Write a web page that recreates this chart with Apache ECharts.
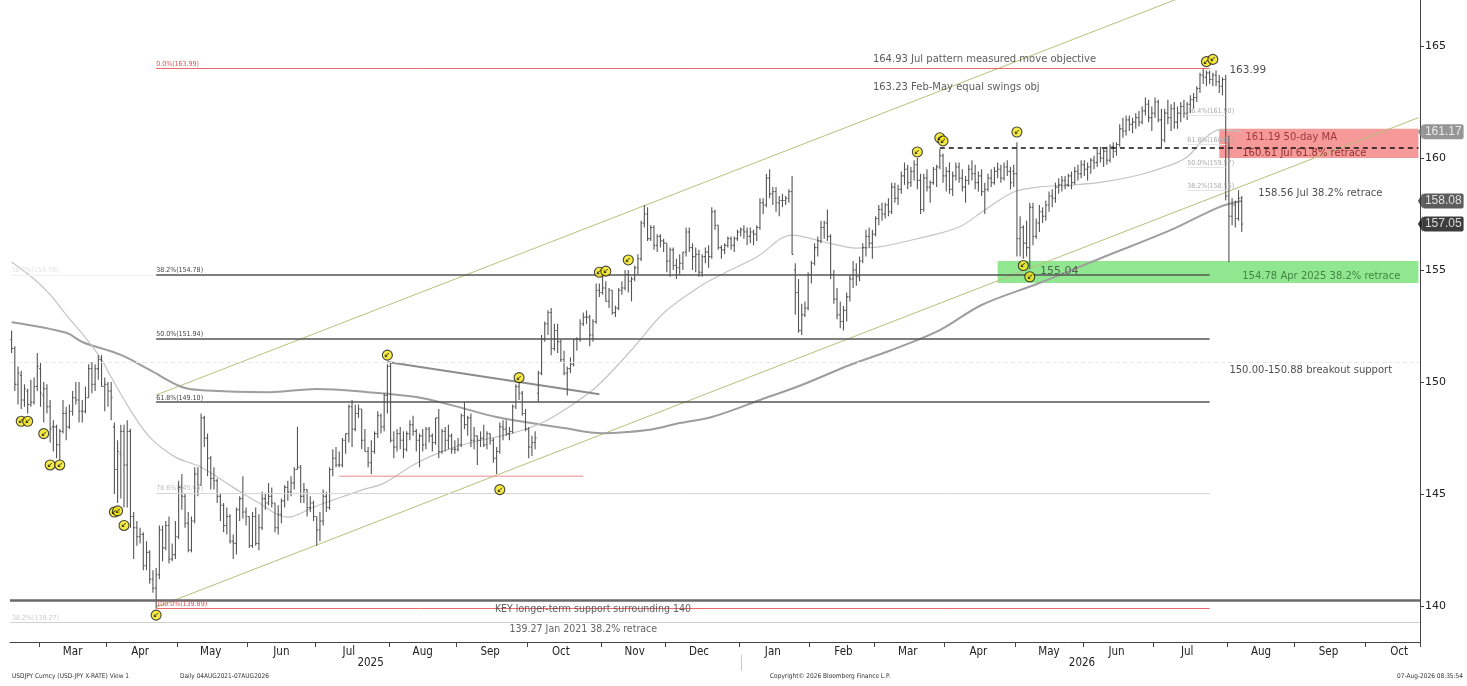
<!DOCTYPE html>
<html><head><meta charset="utf-8">
<script src="https://cdn.jsdelivr.net/npm/echarts@6/dist/echarts.min.js"></script>
<style>html,body{margin:0;padding:0;background:#fff}#c{width:1467px;height:686px}</style>
</head><body><div id="c"></div>
<script>
// ---------- categories: trading days (weekdays) ----------
function weekdays(start, end){
  const out=[]; let d=new Date(start+'T00:00:00Z'); const e=new Date(end+'T00:00:00Z');
  while(d<=e){ const w=d.getUTCDay(); if(w!==0&&w!==6) out.push(d.toISOString().slice(0,10)); d=new Date(d.getTime()+86400000); }
  return out;
}
const dates = weekdays('2025-02-18','2026-10-23');
const monthNames = ['Jan','Feb','Mar','Apr','May','Jun','Jul','Aug','Sep','Oct','Nov','Dec'];
const yearLabelDates = ['2025-07-24','2026-05-29'];
const yearSplitDate = '2026-01-01';
const yTicks = [140,145,150,155,160,165];

// ---------- daily bars [open, high, low, close] ----------
const bars2025Feb = [[151.9,152.3,151.3,151.5],[151.5,151.6,149.6,149.9],[149.9,150.7,149.0,150.4],[150.3,150.5,148.8,149.2],[149.2,149.9,148.9,149.7],[149.6,149.7,148.6,149.0],[149.0,150.1,148.9,149.1],[149.1,150.2,149.0,149.8],[149.8,151.3,149.6,150.7]];
const bars2025Mar = [[150.6,150.9,148.9,149.5],[149.4,150.0,148.2,149.7],[149.7,149.9,148.6,148.9],[148.9,149.2,147.3,147.9],[148.0,148.3,146.9,148.0],[148.0,148.1,146.6,147.2],[147.2,147.9,146.5,147.8],[147.8,149.2,147.7,148.6],[148.6,148.9,147.4,148.0],[148.0,149.0,147.9,148.7],[148.7,149.6,148.5,149.3],[149.3,150.0,149.0,149.2],[149.2,150.0,148.2,148.7],[148.7,149.2,148.2,148.7],[148.7,149.8,148.6,149.3],[149.3,150.8,149.3,150.6],[150.6,150.9,149.5,149.9],[149.9,150.8,149.6,150.6],[150.6,151.2,150.1,151.0],[151.0,151.2,149.8,149.8],[149.8,150.2,148.7,149.9]];
const bars2025Apr = [[149.9,150.0,148.9,149.6],[149.6,150.0,148.3,149.3],[148.0,148.2,145.0,146.1],[146.1,147.4,144.6,146.9],[146.8,148.1,144.8,147.8],[147.8,148.1,144.4,146.3],[146.3,148.3,144.4,147.8],[147.8,147.9,143.5,144.0],[144.0,144.2,142.1,143.5],[143.5,143.8,142.7,143.1],[143.1,143.5,142.8,143.2],[143.2,143.3,141.6,141.8],[141.8,142.9,141.6,142.4],[142.4,142.5,141.0,141.2],[141.2,141.6,140.6,140.8],[140.8,141.7,139.89,141.4],[141.4,143.6,141.2,143.4],[143.4,143.6,142.0,142.6],[142.6,143.8,142.5,143.6],[143.6,144.0,141.9,142.1],[142.1,142.8,142.0,142.3],[142.3,143.8,142.1,143.1]];
const bars2025May = [[143.1,145.6,143.0,145.3],[145.3,145.9,144.3,144.9],[144.9,145.0,143.5,143.7],[143.7,144.2,142.4,142.5],[142.5,144.0,142.4,143.8],[143.8,146.2,143.7,145.9],[145.9,146.2,144.9,145.4],[145.4,148.6,145.4,148.4],[148.4,148.5,147.1,147.5],[147.5,147.7,145.8,146.6],[146.6,146.7,145.2,145.7],[145.7,146.2,145.2,145.6],[145.6,145.7,144.6,144.9],[144.9,145.0,143.8,144.5],[144.5,144.6,143.3,143.6],[143.6,144.4,143.2,144.0],[144.0,144.1,142.8,142.9],[142.9,143.2,142.1,142.8],[142.8,144.4,142.3,144.3],[144.3,144.9,143.8,144.8],[144.8,145.8,143.9,144.2],[144.2,144.4,143.6,144.0]];
const bars2025Jun = [[144.0,144.0,142.6,142.7],[142.7,144.2,142.6,144.0],[144.0,144.4,142.7,142.8],[142.8,144.1,142.5,143.5],[143.5,145.1,143.4,144.8],[144.8,145.0,144.3,144.6],[144.6,145.5,144.5,144.9],[144.9,145.3,144.4,144.6],[144.6,144.6,143.3,143.5],[143.5,144.5,143.2,144.1],[144.1,144.8,143.7,144.7],[144.7,145.4,144.4,145.3],[145.3,145.6,144.7,145.1],[145.1,145.8,144.9,145.5],[145.5,146.2,145.2,146.1],[146.1,148.0,146.1,146.2],[146.2,146.3,144.6,144.9],[144.9,145.5,144.6,145.2],[145.2,145.2,144.0,144.4],[144.4,144.9,144.2,144.6],[144.6,144.7,143.8,144.0]];
const bars2025Jul = [[144.0,144.0,142.7,143.4],[143.4,144.2,142.9,143.8],[143.8,145.2,143.6,144.9],[144.9,145.1,144.2,144.4],[144.4,146.2,144.3,146.1],[146.1,147.0,145.8,146.6],[146.6,147.1,146.2,146.3],[146.3,146.9,146.2,146.3],[146.3,147.5,146.2,147.4],[147.4,147.7,146.8,147.7],[147.7,149.0,147.3,148.9],[148.9,149.2,147.1,147.9],[147.9,149.0,147.8,148.6],[148.6,149.0,148.4,148.8],[148.8,148.8,147.0,147.4],[147.4,147.9,146.9,146.9],[146.9,147.1,146.2,146.4],[146.4,147.4,145.9,146.9],[146.9,147.8,146.8,147.7],[147.7,148.7,147.5,148.5],[148.5,148.6,147.7,148.0],[148.0,149.5,147.8,149.4],[149.4,150.8,148.6,150.7]];
const bars2025Aug = [[150.7,150.9,147.3,147.4],[147.4,147.8,146.6,147.1],[147.1,147.9,146.9,147.7],[147.7,148.0,147.0,147.4],[147.4,147.8,146.6,147.0],[147.0,147.8,146.9,147.7],[147.7,148.3,147.4,148.1],[148.1,148.5,147.6,147.8],[147.8,147.9,146.9,147.4],[147.4,147.7,146.2,147.6],[147.6,147.9,146.9,147.2],[147.2,148.0,147.0,147.9],[147.9,148.0,147.3,147.6],[147.6,147.7,146.9,147.3],[147.3,148.4,147.2,148.4],[148.4,148.8,146.6,146.9],[146.9,147.9,146.8,147.8],[147.8,148.0,146.9,147.4],[147.4,148.1,147.0,147.6],[147.6,147.7,146.8,147.0],[147.0,147.4,146.8,147.0]];
const bars2025Sep = [[147.0,147.5,146.9,147.2],[147.2,148.6,147.1,148.5],[148.5,149.1,147.9,148.1],[148.1,148.5,147.6,148.4],[148.4,148.6,147.1,147.4],[147.4,148.0,147.0,147.6],[147.6,147.6,146.3,147.4],[147.4,147.8,147.1,147.5],[147.5,148.1,147.1,147.2],[147.2,147.8,147.0,147.7],[147.7,147.7,147.2,147.4],[147.4,147.5,146.4,146.6],[146.6,147.1,145.9,146.9],[146.9,148.2,146.8,148.0],[148.0,148.3,147.4,147.9],[147.9,148.3,147.6,147.7],[147.7,148.0,147.4,147.8],[147.8,149.0,147.7,148.9],[148.9,149.9,148.8,149.8],[149.8,150.0,149.2,149.5],[149.5,149.6,148.5,148.6],[148.6,148.8,147.8,147.9]];
const bars2025Oct = [[147.9,148.0,146.6,147.1],[147.1,147.6,146.7,147.3],[147.3,147.8,147.0,147.5],[149.5,150.5,149.1,150.4],[150.4,152.1,150.3,151.9],[151.9,152.7,151.8,152.6],[152.6,153.2,152.1,153.1],[153.1,153.3,151.2,151.5],[151.5,152.6,151.4,152.3],[152.3,152.6,151.3,151.8],[151.8,151.9,150.9,151.0],[151.0,151.4,150.3,150.4],[150.4,150.7,149.4,150.6],[150.6,151.1,150.4,150.8],[150.8,151.9,150.7,151.9],[151.9,152.0,151.4,151.9],[151.9,152.8,151.8,152.6],[152.6,153.1,152.5,152.9],[152.9,153.2,152.6,152.9],[152.9,153.0,151.6,152.1],[152.1,152.8,151.8,152.7],[152.7,154.4,152.6,154.1],[154.1,154.4,153.8,154.0]];
const bars2025Nov = [[154.0,154.8,153.9,154.2],[154.2,154.5,153.6,153.6],[153.6,154.2,153.3,154.1],[154.1,154.1,153.0,153.1],[153.1,153.4,152.9,153.3],[153.3,154.2,153.2,154.1],[154.1,154.5,153.9,154.2],[154.2,155.0,154.1,154.8],[154.8,155.0,154.0,154.5],[154.5,154.7,153.6,154.6],[154.6,155.2,154.5,155.1],[155.1,155.7,154.8,155.5],[155.5,157.2,155.4,157.1],[157.1,157.9,156.9,157.5],[157.5,157.8,156.3,156.4],[156.4,157.0,156.3,156.9],[156.9,157.0,155.9,156.1],[156.1,156.6,155.8,156.5],[156.5,156.6,156.0,156.3],[156.3,156.4,155.8,156.2]];
const bars2025Dec = [[156.2,156.2,154.9,155.4],[155.4,156.0,154.7,155.9],[155.9,156.0,155.0,155.2],[155.2,155.5,154.6,155.1],[155.1,155.7,154.8,155.3],[155.3,155.8,155.0,155.8],[155.8,156.9,155.6,156.7],[156.7,156.9,155.8,156.0],[156.0,156.2,155.0,155.6],[155.6,156.0,154.9,155.7],[155.7,155.9,154.7,154.9],[154.9,155.7,154.7,155.6],[155.6,156.0,155.3,155.8],[155.8,156.1,155.1,155.6],[155.6,157.8,155.5,157.6],[157.6,157.7,156.8,157.0],[157.0,157.0,155.9,156.0],[156.0,156.1,155.5,155.9],[155.9,156.2,155.7,156.1],[156.1,156.5,156.0,156.4],[156.4,156.5,155.9,156.1],[156.1,156.5,155.8,156.4],[156.4,156.8,156.3,156.7]];
const bars2026Jan = [[156.7,156.9,156.5,156.8],[156.8,157.0,156.4,156.7],[156.7,156.9,156.1,156.5],[156.5,156.9,156.2,156.7],[156.7,156.8,156.1,156.6],[156.6,157.0,156.3,156.9],[156.9,158.2,156.8,158.0],[158.0,158.2,157.5,157.9],[157.9,159.3,157.8,159.1],[159.1,159.5,158.2,158.4],[158.4,158.7,157.9,158.5],[158.5,158.7,157.6,158.0],[158.0,158.3,157.4,158.1],[158.1,158.4,157.8,158.1],[158.1,158.3,157.9,158.2],[158.2,158.6,158.0,158.5],[158.5,159.2,155.7,155.7],[155.0,155.3,153.0,154.0],[154.0,154.6,152.2,152.3],[152.3,153.5,152.1,153.0],[153.0,153.6,152.9,153.3],[153.3,154.9,153.2,154.8]];
const bars2026Feb = [[154.8,155.4,154.4,155.3],[155.3,156.2,155.2,156.0],[156.0,156.5,155.6,156.3],[156.3,157.2,156.2,156.9],[156.9,157.2,156.4,157.1],[157.1,157.7,156.3,156.5],[156.5,156.6,154.6,154.8],[154.8,155.0,153.5,153.7],[153.7,154.2,152.8,153.0],[153.0,153.6,152.4,152.7],[152.7,153.4,152.3,153.2],[153.2,154.0,152.7,153.8],[153.8,154.8,153.6,154.6],[154.6,155.4,154.2,155.0],[155.0,155.3,154.3,154.7],[154.7,155.6,154.5,155.4],[155.4,156.2,155.3,156.0],[156.0,156.8,155.6,156.5],[156.5,156.9,156.0,156.2],[156.2,156.8,155.5,156.6]];
const bars2026Mar = [[156.6,157.4,156.5,157.3],[157.3,157.9,157.0,157.7],[157.7,158.0,157.2,157.5],[157.5,158.0,157.3,157.9],[157.9,158.2,157.4,157.6],[157.6,158.9,157.5,158.7],[158.7,158.9,158.0,158.2],[158.2,158.8,157.9,158.6],[158.6,159.4,158.4,159.2],[159.2,159.8,158.8,159.5],[159.5,159.7,158.6,158.9],[158.9,159.6,158.7,159.4],[159.4,159.9,159.0,159.7],[159.7,160.0,158.6,159.0],[159.0,159.3,157.5,157.7],[157.7,159.3,157.6,159.1],[159.1,159.5,158.5,158.7],[158.7,159.0,158.0,158.9],[158.9,159.6,158.8,159.5],[159.5,159.7,158.7,159.6],[159.6,160.4,159.5,160.1],[160.1,160.2,158.9,159.2]];
const bars2026Apr = [[159.2,159.6,158.5,159.4],[159.4,159.8,158.4,158.6],[158.6,159.4,158.3,159.2],[159.2,159.8,159.0,159.6],[159.6,159.8,158.9,159.1],[159.1,159.5,158.5,158.7],[158.7,159.2,158.0,159.0],[159.0,159.7,158.8,159.5],[159.5,159.9,159.0,159.3],[159.3,159.7,158.6,158.9],[158.9,159.4,158.5,159.2],[159.2,159.5,158.3,158.5],[158.5,158.9,157.5,158.6],[158.6,159.3,158.5,159.1],[159.1,159.5,158.7,158.9],[158.9,159.6,158.8,159.4],[159.4,159.8,159.1,159.5],[159.5,159.7,158.9,159.1],[159.1,159.8,159.0,159.6],[159.6,159.9,159.2,159.4],[159.4,159.6,158.6,158.9],[159.4,159.7,158.7,159.3]];
const bars2026May = [[159.3,160.7,155.6,156.4],[156.4,157.4,155.6,156.9],[156.9,157.0,155.5,156.2],[156.2,157.2,155.6,156.0],[156.0,158.0,155.04,157.8],[157.8,158.0,156.1,156.5],[156.5,157.3,156.4,157.1],[157.1,157.9,156.7,157.6],[157.6,157.8,157.1,157.4],[157.4,158.1,157.2,157.9],[157.9,158.5,157.6,158.3],[158.3,158.6,157.8,158.2],[158.2,158.9,158.0,158.7],[158.7,159.1,158.4,158.8],[158.8,159.2,158.5,159.0],[159.0,159.2,158.6,158.8],[158.8,159.3,158.7,159.2],[159.2,159.4,158.6,158.9],[158.9,159.6,158.8,159.4],[159.4,159.7,159.0,159.3],[159.3,159.9,159.1,159.7]];
const bars2026Jun = [[159.7,159.9,159.2,159.5],[159.5,159.8,159.0,159.6],[159.6,160.0,159.3,159.9],[159.9,160.1,159.5,159.8],[159.8,160.4,159.6,160.2],[160.2,160.5,159.8,160.0],[160.0,160.4,159.6,160.3],[160.3,160.5,159.7,159.9],[159.9,160.6,159.8,160.5],[160.5,160.7,160.0,160.3],[160.3,160.7,160.1,160.6],[160.6,161.5,160.5,161.3],[161.3,161.8,160.9,161.2],[161.2,161.9,161.0,161.7],[161.7,161.9,161.2,161.5],[161.5,161.8,161.1,161.6],[161.6,162.0,161.3,161.8],[161.8,162.1,161.4,161.6],[161.6,162.3,161.5,162.1],[162.1,162.7,161.9,162.4],[162.4,162.6,161.6,161.8],[161.8,162.3,161.2,162.0]];
const bars2026Jul = [[162.0,162.7,161.8,162.5],[162.5,162.6,161.6,161.7],[161.7,162.2,160.4,160.8],[160.8,162.2,160.7,162.0],[162.0,162.6,161.5,161.8],[161.8,162.4,161.2,162.2],[162.2,162.5,161.3,161.6],[161.6,162.3,161.3,162.0],[162.0,162.5,161.6,162.3],[162.3,162.6,161.8,162.0],[162.0,162.5,161.7,162.4],[162.4,162.8,162.0,162.6],[162.6,162.9,162.2,162.7],[162.7,163.2,162.5,163.1],[163.1,163.8,162.9,163.7],[163.7,163.99,163.3,163.6],[163.6,163.9,163.2,163.8],[163.8,163.9,163.3,163.5],[163.5,163.8,163.2,163.7],[163.7,163.9,163.2,163.4],[163.4,163.7,162.9,163.2],[163.2,163.6,162.8,163.5],[163.5,163.7,158.1,158.3]];
const bars2026Aug = [[158.3,161.0,155.35,157.4],[157.4,158.2,157.0,157.9],[157.9,158.1,156.9,157.3],[157.3,158.56,157.2,158.2],[158.2,158.3,156.7,157.05]];

// ---------- moving averages [barIndex, value] ----------
const ma50Points = [[0,155.36],[7,154.6],[12,153.9],[17,153.0],[24,151.8],[28,151.0],[31,150.22],[37,148.75],[43,147.54],[51,146.65],[59,146.2],[69,145.3],[77,144.6],[86,143.97],[94,144.42],[100,144.73],[109,145.18],[116,145.49],[126,146.38],[137,147.05],[146,147.4],[156,147.72],[165,148.17],[172,148.75],[182,149.78],[193,151.43],[203,153.08],[214,154.24],[222,154.87],[232,155.58],[243,156.56],[253,156.25],[263,155.98],[270,156.03],[284,156.47],[295,156.92],[303,157.68],[312,158.48],[320,158.71],[330,158.79],[340,158.93],[351,159.24],[361,159.69],[366,160.04],[371,160.8],[376,161.25],[383,161.17]];
const ma200Points = [[0,152.67],[17,152.2],[22,151.79],[34,151.21],[43,150.54],[53,149.78],[59,149.64],[80,149.55],[95,149.69],[111,149.55],[126,149.33],[137,148.97],[151,148.44],[172,147.95],[184,147.72],[198,147.86],[208,148.17],[218,148.44],[233,149.2],[246,149.87],[261,150.76],[274,151.43],[289,152.32],[302,153.44],[320,154.42],[340,155.58],[361,156.79],[376,157.81],[383,158.08]];

// ---------- trend lines ----------
const channelUpper = [[45,149.42],[438,171.27]];
const channelLower = [[45,139.95],[438,161.8]];
const wedgeLine = [[117,150.9],[183,149.46]];
const julyLowLine = [[102,145.8],[178,145.8]];

// ---------- levels ----------
const fibLevels = [163.99,154.78,151.94,149.10,145.05,139.89];
const fibLabels = ['0.0%(163.99)','38.2%(154.78)','50.0%(151.94)','61.8%(149.10)','78.6%(145.05)','100.0%(139.89)'];
const julFibLevels = [161.90,160.61,159.57,158.56];
const julFibLabels = ['76.4%(161.90)','61.8%(160.61)','50.0%(159.57)','38.2%(158.56)'];
const keySupport = 140.25;
const jan2021Retrace = 139.27;
const breakoutSupport = 150.88;
const marchHigh = 160.45;
const pinkZone = [161.3,160.0];
const greenZone = [155.4,154.42];

// ---------- signal markers [barIndex, price] ----------
const signalMarkers = [[3,148.25],[5,148.25],[10,147.7],[12,146.3],[15,146.3],[32,144.2],[33,144.25],[35,143.6],[45,139.6],[117,151.2],[152,145.2],[158,150.2],[183,154.9],[185,154.95],[192,155.45],[282,160.27],[289,160.9],[290,160.76],[313,161.16],[315,155.2],[317,154.7],[372,164.3],[374,164.4]];

// ---------- right-axis price tags ----------
const tagValues = [161.17,158.08,157.05];
const tagColors = ['#7b7b7b','#333333','#0d0d0d'];

// ---------- annotation texts ----------
const noteTexts = ['164.93 Jul pattern measured move objective','163.23 Feb-May equal swings obj','163.99','161.19 50-day MA','160.61 Jul 61.8% retrace','158.56 Jul 38.2% retrace','155.04','154.78 Apr 2025 38.2% retrace','150.00-150.88 breakout support','KEY longer-term support surrounding 140','139.27 Jan 2021 38.2% retrace'];

const ohlc = [].concat(bars2025Feb,bars2025Mar,bars2025Apr,bars2025May,bars2025Jun,bars2025Jul,bars2025Aug,bars2025Sep,bars2025Oct,bars2025Nov,bars2025Dec,bars2026Jan,bars2026Feb,bars2026Mar,bars2026Apr,bars2026May,bars2026Jun,bars2026Jul,bars2026Aug);

const NARROW = '"Liberation Sans Narrow","DejaVu Sans Condensed","Roboto Condensed",sans-serif';
const SANS = '"DejaVu Sans",Verdana,sans-serif';

function isMonthStart(i){ return i>0 && dates[i].slice(5,7)!==dates[i-1].slice(5,7); }
function isMidMonth(i){
  if(i===0) return false;
  const d=+dates[i].slice(8,10), p=+dates[i-1].slice(8,10);
  return d>=15 && (p<15 || dates[i-1].slice(5,7)!==dates[i].slice(5,7));
}
const yearIdx = yearLabelDates.map(d=>dates.indexOf(d));
const splitIdx = dates.indexOf(yearSplitDate);
const lastIdx = dates.length-1;

const chart = echarts.init(document.getElementById('c'));

const fibStyle = [
  {c:'#e86a6a',w:1,lc:'#e05050'},
  {c:'#555',w:1.6,lc:'#444'},
  {c:'#555',w:1.6,lc:'#444'},
  {c:'#555',w:1.6,lc:'#444'},
  {c:'#d6d6d6',w:1,lc:'#bbb'},
  {c:'#e86a6a',w:1,lc:'#e05050'}
];
const markLineData = [];
fibLevels.forEach((v,k)=>{
  markLineData.push([{xAxis:45,yAxis:v,lineStyle:{color:fibStyle[k].c,width:fibStyle[k].w,type:'solid'},
    label:{show:true,position:'insideStartTop',formatter:fibLabels[k],fontSize:7,color:fibStyle[k].lc,fontFamily:NARROW,distance:[0,1]}},
    {xAxis:373,yAxis:v}]);
});
julFibLevels.forEach((v,k)=>{
  markLineData.push([{xAxis:366,yAxis:v,lineStyle:{color:'#e4e4e4',width:1,type:'solid'},
    label:{show:true,position:'insideStartTop',formatter:julFibLabels[k],fontSize:7,color:'#aaa',fontFamily:NARROW,distance:[0,1]}},
    {xAxis:378,yAxis:v}]);
});
markLineData.push([{xAxis:0,yAxis:154.78,lineStyle:{color:'#f0f0f0',width:1,type:'solid'},
  label:{show:true,position:'insideStartTop',formatter:'38.2%(154.78)',fontSize:7,color:'#e2e2e2',fontFamily:NARROW,distance:[0,1]}},{xAxis:45,yAxis:154.78}]);
markLineData.push({yAxis:keySupport,lineStyle:{color:'#6a6a6a',width:2.5,type:'solid'},label:{show:false}});
markLineData.push({yAxis:jan2021Retrace,lineStyle:{color:'#d0d0d0',width:1,type:'solid'},
  label:{show:true,position:'insideStartTop',formatter:'38.2%(139.27)',fontSize:7,color:'#ccc',fontFamily:NARROW,distance:[2,1]}});
markLineData.push({yAxis:breakoutSupport,lineStyle:{color:'#e6e6e6',width:1,type:[4,3]},label:{show:false}});
markLineData.push([{xAxis:289,yAxis:marchHigh,lineStyle:{color:'#111',width:1.5,type:[5,4]},label:{show:false}},{xAxis:lastIdx,yAxis:marchHigh}]);

const noteAnchors = [
  {i:268,p:164.38,c:'#333',s:10,f:SANS,pos:'right'},
  {i:268,p:163.17,c:'#333',s:10,f:SANS,pos:'right'},
  {i:379,p:163.93,c:'#222',s:10.5,f:SANS,pos:'right'},
  {i:384,p:160.90,c:'#8a1c1c',s:10,f:SANS,pos:'right'},
  {i:383,p:160.22,c:'#7a1515',s:10,f:SANS,pos:'right'},
  {i:388,p:158.44,c:'#222',s:10,f:SANS,pos:'right'},
  {i:320,p:154.96,c:'#444',s:11,f:SANS,pos:'right'},
  {i:383,p:154.73,c:'#2e6b2e',s:10,f:SANS,pos:'right'},
  {i:379,p:150.54,c:'#222',s:10,f:SANS,pos:'right'},
  {i:181,p:139.85,c:'#3a3a3a',s:10.5,f:NARROW,pos:'inside'},
  {i:178,p:138.97,c:'#3a3a3a',s:10.5,f:NARROW,pos:'inside'}
];

chart.setOption({
  animation:false,
  backgroundColor:'#ffffff',
  grid:{left:10,right:47,top:0,bottom:44},
  xAxis:[{
    type:'category',data:dates,boundaryGap:true,
    axisLine:{show:true,lineStyle:{color:'#444',width:1}},
    axisTick:{show:true,interval:(i)=>isMonthStart(i),length:5,lineStyle:{color:'#444'}},
    axisLabel:{interval:(i)=>isMidMonth(i),formatter:(v)=>monthNames[+v.slice(5,7)-1],color:'#222',fontSize:11.5,fontFamily:NARROW,margin:4},
    splitLine:{show:false}
  },{
    type:'category',data:dates,boundaryGap:false,position:'bottom',offset:13,
    axisLine:{show:false},
    axisTick:{show:true,interval:(i)=>i===splitIdx,length:16,lineStyle:{color:'#c8c8c8'}},
    axisLabel:{interval:(i)=>yearIdx.indexOf(i)>=0,formatter:(v)=>v.slice(0,4),color:'#222',fontSize:11.5,fontFamily:NARROW,margin:2},
    splitLine:{show:false}
  }],
  yAxis:{
    type:'value',position:'right',min:138.4,max:167.05,
    axisLine:{show:true,lineStyle:{color:'#444',width:1}},
    axisTick:{show:true,customValues:yTicks,length:4,lineStyle:{color:'#444'}},
    axisLabel:{customValues:yTicks,color:'#222',fontSize:11,fontFamily:SANS,margin:5},
    splitLine:{show:false}
  },
  graphic:[
    {type:'text',left:12,top:673,style:{text:'USDJPY Curncy (USD-JPY X-RATE) View 1',fontSize:6.5,fill:'#333',fontFamily:NARROW}},
    {type:'text',left:180,top:673,style:{text:'Daily 04AUG2021-07AUG2026',fontSize:6.5,fill:'#333',fontFamily:NARROW}},
    {type:'text',left:770,top:673,style:{text:'Copyright\u00a9 2026 Bloomberg Finance L.P.',fontSize:6.5,fill:'#333',fontFamily:NARROW}},
    {type:'text',right:4,top:673,style:{text:'07-Aug-2026 08:35:54',fontSize:6.5,fill:'#333',fontFamily:NARROW}}
  ],
  series:[
    {
      name:'levels',type:'line',data:[],silent:true,z:1,
      markArea:{silent:true,data:[
        [{xAxis:376,yAxis:pinkZone[0],itemStyle:{color:'rgba(238,70,70,0.55)'}},{xAxis:lastIdx,yAxis:pinkZone[1]}],
        [{xAxis:307,yAxis:greenZone[0],itemStyle:{color:'rgba(70,215,70,0.6)'}},{xAxis:lastIdx,yAxis:greenZone[1]}]
      ]},
      markLine:{silent:true,symbol:['none','none'],animation:false,data:markLineData}
    },
    {name:'upper channel',type:'line',data:channelUpper,showSymbol:false,silent:true,lineStyle:{color:'#b9c07c',width:1},z:2},
    {name:'lower channel',type:'line',data:channelLower,showSymbol:false,silent:true,lineStyle:{color:'#b9c07c',width:1},z:2},
    {name:'200d',type:'line',data:ma200Points,showSymbol:false,smooth:0.35,silent:true,lineStyle:{color:'#9e9e9e',width:2},z:2},
    {name:'50d',type:'line',data:ma50Points,showSymbol:false,smooth:0.35,silent:true,lineStyle:{color:'#c4c4c4',width:1.2},z:2},
    {name:'wedge',type:'line',data:wedgeLine,showSymbol:false,silent:true,lineStyle:{color:'#8c8c8c',width:2},z:3},
    {name:'july low',type:'line',data:julyLowLine,showSymbol:false,silent:true,lineStyle:{color:'#ef8a8a',width:1},z:3},
    {
      name:'USDJPY',type:'custom',clip:true,z:4,
      data:ohlc.map((b,i)=>[i,b[0],b[1],b[2],b[3]]),
      encode:{x:0,y:[1,2,3,4]},
      renderItem:function(params,api){
        const i=api.value(0);
        const o=api.coord([i,api.value(1)]), h=api.coord([i,api.value(2)]), l=api.coord([i,api.value(3)]), c=api.coord([i,api.value(4)]);
        const st={stroke:'#555555',lineWidth:1.1};
        return {type:'group',children:[
          {type:'line',shape:{x1:h[0],y1:h[1],x2:l[0],y2:l[1]},style:st},
          {type:'line',shape:{x1:o[0]-1.3,y1:o[1],x2:o[0],y2:o[1]},style:st},
          {type:'line',shape:{x1:c[0],y1:c[1],x2:c[0]+1.3,y2:c[1]},style:st}
        ]};
      }
    },
    {
      name:'signals',type:'scatter',data:signalMarkers,symbol:'circle',symbolSize:10,z:6,silent:true,
      itemStyle:{color:'#f3e51a',borderColor:'#1a1a1a',borderWidth:1.1},
      label:{show:true,position:'inside',formatter:'\u2199',fontSize:7,color:'#111',fontWeight:'bold'}
    },
    {
      name:'notes',type:'scatter',symbol:'circle',symbolSize:1,z:7,silent:true,
      itemStyle:{color:'rgba(0,0,0,0)'},
      data:noteAnchors.map((n,k)=>({value:[n.i,n.p],label:{show:true,position:n.pos,distance:0,formatter:noteTexts[k],color:n.c,fontSize:n.s,fontFamily:n.f}}))
    },
    {
      name:'tags',type:'scatter',z:8,silent:true,clip:false,
      symbol:'path://M0,5 L6,0 L6,10 Z',symbolSize:[5,16],symbolOffset:[2,0],
      data:tagValues.map((v,k)=>({value:[lastIdx,v],itemStyle:{color:tagColors[k]},
        label:{show:true,position:'right',distance:0,formatter:v.toFixed(2),color:'#fff',fontSize:12,fontFamily:'"Liberation Sans",Arial,sans-serif',
          backgroundColor:tagColors[k],padding:[2,2,1,2],borderRadius:2}}))
    }
  ]
});
</script>
</body></html>
